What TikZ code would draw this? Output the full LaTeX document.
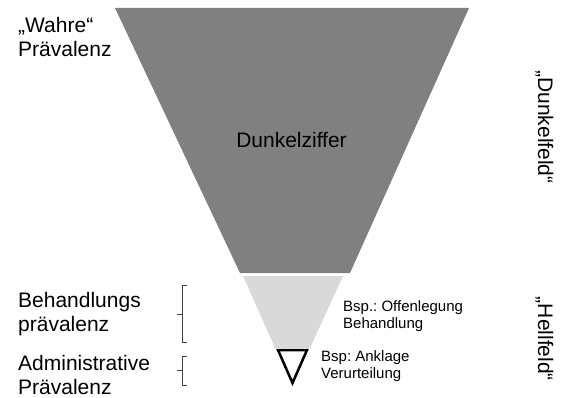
\documentclass[tikz,border=0pt]{standalone}
\usepackage{fontspec}
\setmainfont{Liberation Sans}
\frenchspacing
\definecolor{dunkelgrau}{RGB}{128,128,128}
\definecolor{hellgrau}{RGB}{217,217,217}

\begin{document}
\begin{tikzpicture}[x=1pt,y=-1pt,
  praevalenz/.style={inner sep=0, align=left, anchor=north west, font=\fontsize{21}{24}\selectfont},
  beispiel/.style={inner sep=0, align=left, anchor=north west, font=\fontsize{15}{16.7}\selectfont},
  feld/.style={inner sep=0, rotate=-90, anchor=base, font=\fontsize{21}{24}\selectfont},
  klammer/.style={draw=black!75, line width=0.8pt}]
\useasboundingbox (0,0) rectangle (562,398);
  % Dunkelfeld
  \coordinate (D1) at (115,8);
  \coordinate (D2) at (469,8);
  \coordinate (D3) at (350,273);
  \coordinate (D4) at (240,273);
  \fill[dunkelgrau] (D1) -- (D2) -- (D3) -- (D4) -- cycle;
  % Hellfeld
  \coordinate (H1) at (243,276);
  \coordinate (H2) at (343,276);
  \coordinate (H3) at (310,348);
  \coordinate (H4) at (275,348);
  \fill[hellgrau] (H1) -- (H2) -- (H3) -- (H4) -- cycle;
  % administrative Spitze
  \coordinate (A1) at (278,350);
  \coordinate (A2) at (307,350);
  \coordinate (A3) at (292.5,383);
  \draw[line width=2.5pt, line join=miter, fill=white] (A1) -- (A2) -- (A3) -- cycle;

  \node[praevalenz] (wahre) at (18,17) {„Wahre“\\Prävalenz};
  \node[praevalenz] (behandlung) at (18,292.5) {Behandlungs\\prävalenz};
  \node[praevalenz] (admin) at (18,355) {Administrative\\Prävalenz};
  \node[inner sep=0, anchor=base, font=\fontsize{21}{24}\selectfont] (ziffer) at (291.5,148) {Dunkelziffer};

  \node[beispiel] (bspbeh) at (343,300.5) {Bsp.: Offenlegung\\Behandlung};
  \node[beispiel] (bspadm) at (321,350.5) {Bsp: Anklage\\Verurteilung};

  \node[feld] (dunkel) at (538,127) {„Dunkelfeld“};
  \node[feld] (hell) at (538,339) {„Hellfeld“};

  % Klammern
  \draw[klammer] (187,285) -- (182,285) -- (182,342) -- (187,342) (182,314) -- (177,314);
  \draw[klammer] (187,356) -- (182,356) -- (182,385) -- (187,385) (182,370) -- (177,370);
\end{tikzpicture}
\end{document}
